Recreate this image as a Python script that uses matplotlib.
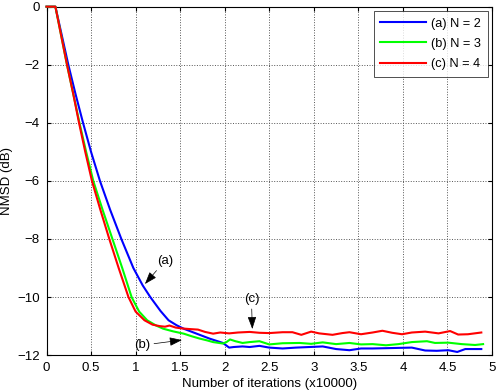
import numpy as np
import matplotlib
matplotlib.use('Agg')
import matplotlib.pyplot as plt

# curve (a) N = 2
x_a = [0, 0.10, 0.245, 0.325, 0.41, 0.50, 0.60, 0.715, 0.84, 0.975, 1.08, 1.165, 1.28, 1.37,
       1.46, 1.54, 1.685, 1.83, 1.98, 2.05, 2.1, 2.2, 2.28, 2.39, 2.50, 2.65, 2.80, 2.95, 3.10,
       3.25, 3.40, 3.53, 3.66, 3.81, 3.95, 4.10, 4.25, 4.38, 4.51, 4.61, 4.70, 4.88]
y_a = [0, 0, -2, -3, -4, -5, -6, -7, -8, -9, -9.6, -10, -10.48, -10.8,
       -10.97, -11.09, -11.26, -11.43, -11.58, -11.74, -11.72, -11.70, -11.72, -11.68, -11.74, -11.77, -11.74, -11.72, -11.70,
       -11.79, -11.83, -11.77, -11.77, -11.76, -11.75, -11.74, -11.84, -11.85, -11.83, -11.89, -11.79, -11.79]

# curve (b) N = 3
x_b = [0, 0.10, 0.23, 0.30, 0.37, 0.445, 0.525, 0.63, 0.74, 0.85, 0.955, 1.04, 1.13,
       1.23, 1.31, 1.42, 1.54, 1.63, 1.72, 1.80, 1.87, 1.98, 2.02, 2.06, 2.12, 2.2, 2.28, 2.39,
       2.50, 2.65, 2.84, 2.97, 3.10, 3.25, 3.40, 3.53, 3.66, 3.81, 3.95, 4.10, 4.27, 4.36, 4.51,
       4.66, 4.81, 4.90]
y_b = [0, 0, -2, -3, -4, -5, -6, -7, -8, -9, -10, -10.5, -10.8,
       -10.98, -11.09, -11.18, -11.26, -11.35, -11.43, -11.49, -11.55, -11.6, -11.55, -11.46, -11.52, -11.58, -11.55, -11.52,
       -11.63, -11.59, -11.58, -11.61, -11.56, -11.62, -11.58, -11.63, -11.62, -11.66, -11.62, -11.55, -11.52, -11.58, -11.57,
       -11.62, -11.65, -11.62]

# curve (c) N = 4
x_c = [0, 0.10, 0.23, 0.30, 0.365, 0.435, 0.51, 0.605, 0.705, 0.81, 0.92, 1.0, 1.10,
       1.19, 1.27, 1.33, 1.38, 1.45, 1.52, 1.6, 1.7, 1.78, 1.87, 1.95, 2.05, 2.15, 2.28, 2.39,
       2.50, 2.65, 2.76, 2.86, 2.97, 3.06, 3.21, 3.32, 3.40, 3.53, 3.66, 3.77, 3.88, 3.99, 4.10,
       4.25, 4.40, 4.53, 4.62, 4.73, 4.88]
y_c = [0, 0, -2, -3, -4, -5, -6, -7, -8, -9, -10, -10.5, -10.8,
       -10.95, -11.0, -11.02, -10.98, -11.05, -11.08, -11.1, -11.12, -11.2, -11.26, -11.22, -11.25, -11.22, -11.2, -11.23,
       -11.24, -11.21, -11.21, -11.30, -11.19, -11.25, -11.30, -11.24, -11.21, -11.28, -11.22, -11.16, -11.23, -11.28, -11.22,
       -11.19, -11.25, -11.17, -11.29, -11.28, -11.22]

labels = ['(a) N = 2', '(b) N = 3', '(c) N = 4']
xticks = np.arange(0, 5.01, 0.5)
xtick_labels = ['0', '0.5', '1', '1.5', '2', '2.5', '3', '3.5', '4', '4.5', '5']
yticks = np.arange(-12, 0.1, 2)

plt.rcParams['font.family'] = ['Liberation Sans', 'DejaVu Sans']
fs = 9.5

fig = plt.figure(figsize=(5, 3.92), dpi=100)
ax = fig.add_axes([0.093, 0.094, 0.891, 0.889])
ax.plot(x_a, y_a, color=(0, 0, 1), lw=1.5, label=labels[0], clip_on=False, zorder=3)
ax.plot(x_b, y_b, color=(0, 1, 0), lw=1.5, label=labels[1], clip_on=False, zorder=3)
ax.plot(x_c, y_c, color=(1, 0, 0), lw=1.5, label=labels[2], clip_on=False, zorder=3)

ax.set_xlim(0, 5)
ax.set_ylim(-12, 0)
ax.set_xticks(xticks)
ax.set_xticklabels(xtick_labels)
ax.set_yticks(yticks)
ax.tick_params(direction='in', top=True, right=True, length=3, labelsize=fs, pad=5)
ax.grid(True, linestyle=':', color='#555555', linewidth=0.7)
for s in ax.spines.values():
    s.set_linewidth(0.8)
ax.set_xlabel('Number of iterations (x10000)', fontsize=fs, labelpad=3)
ax.set_ylabel('NMSD (dB)', fontsize=fs, labelpad=3)

arrow = dict(arrowstyle='-|>,head_length=0.8,head_width=0.28', color='black', lw=0.5, shrinkA=1, shrinkB=0)
ax.annotate('(a)', xy=(1.105, -9.55), xytext=(1.33, -8.75), fontsize=fs, ha='center', va='center',
            arrowprops=arrow)
ax.annotate('(b)', xy=(1.52, -11.48), xytext=(1.07, -11.66), fontsize=fs, ha='center', va='center',
            arrowprops=arrow)
ax.annotate('(c)', xy=(2.31, -11.1), xytext=(2.30, -10.06), fontsize=fs, ha='center', va='center',
            arrowprops=arrow)

leg = ax.legend(loc='upper right', fontsize=9.2, fancybox=False, edgecolor='black',
                handlelength=3.6, borderpad=0.5, labelspacing=0.65, handletextpad=0.4,
                borderaxespad=0.35)
leg.get_frame().set_linewidth(0.6)

plt.savefig('out.png', dpi=100)
